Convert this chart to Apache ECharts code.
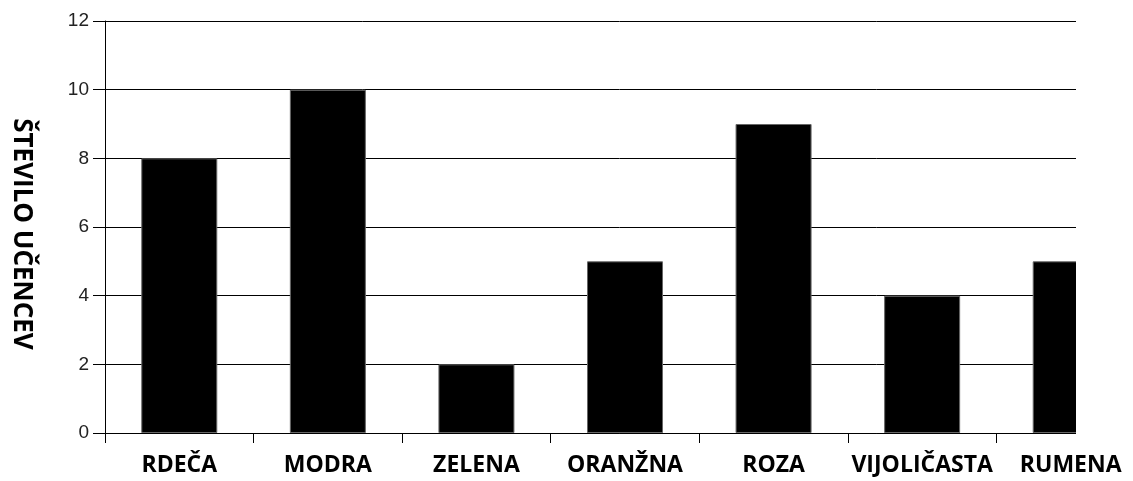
<!DOCTYPE html>
<html>
<head>
<meta charset="utf-8">
<script src="https://cdn.jsdelivr.net/npm/echarts@6/dist/echarts.min.js"></script>
<style>
  html, body { margin: 0; padding: 0; background: #fff; }
  #chart { width: 1133px; height: 481px; }
</style>
</head>
<body>
<div id="chart"></div>
<script>
// barve in število učencev
var categories = ["RDEČA", "MODRA", "ZELENA", "ORANŽNA", "ROZA", "VIJOLIČASTA", "RUMENA"];
var counts = [8, 10, 2, 5, 9, 4, 5];
var yTicks = { min: 0, max: 12, interval: 2 };
var yTitle = "ŠTEVILO UČENCEV";

var chart = echarts.init(document.getElementById("chart"));
var option = {
    animation: false,
    backgroundColor: "#fff",
    grid: {
        left: 105, top: 21, width: 1040, height: 412,
        containLabel: false,
        outerBoundsMode: "none"
    },
    xAxis: {
        type: "category",
        data: categories,
        boundaryGap: true,
        axisLine: { show: true, lineStyle: { color: "#000", width: 1 } },
        axisTick: { show: true, length: 10, lineStyle: { color: "#000" } },
        axisLabel: {
            margin: 21,
            color: "#000",
            fontFamily: "Open Sans",
            fontWeight: "bold",
            fontSize: 23,
            interval: 0
        }
    },
    yAxis: {
        type: "value",
        min: yTicks.min,
        max: yTicks.max,
        interval: yTicks.interval,
        name: yTitle,
        nameLocation: "middle",
        nameRotate: -90,
        nameGap: 71,
        nameTextStyle: {
            color: "#000",
            fontFamily: "Open Sans",
            fontWeight: "bold",
            fontSize: 26,
            padding: [0, 0, 0, 14]
        },
        axisLine: { show: true, lineStyle: { color: "#000", width: 1 } },
        axisTick: { show: true, length: 12, lineStyle: { color: "#000" } },
        axisLabel: {
            margin: 16,
            color: "#222",
            fontFamily: "Arial",
            fontSize: 19
        },
        splitLine: { show: true, lineStyle: { color: "#000", width: 1 } }
    },
    series: [{
        type: "bar",
        data: counts,
        barWidth: 76,
        itemStyle: { color: "#000", borderColor: "#666", borderWidth: 1 }
    }],
    graphic: [{
        type: "rect",
        shape: { x: 1076, y: 0, width: 60, height: 441 },
        style: { fill: "#fff" },
        z: 100
    }]
};
chart.setOption(option);
</script>
</body>
</html>
